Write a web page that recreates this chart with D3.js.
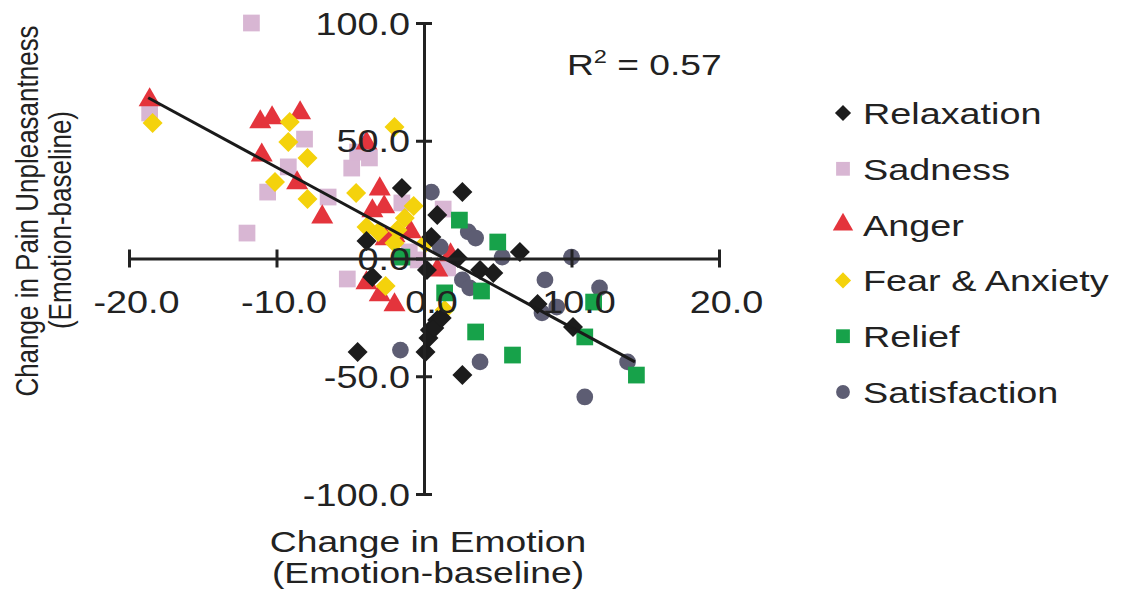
<!DOCTYPE html>
<html>
<head>
<meta charset="utf-8">
<script src="https://cdn.jsdelivr.net/npm/d3@7"></script>
<style>
body { margin: 0; background: #fff; }
text { font-family: "Liberation Sans", Arial, sans-serif; fill: #222; }
</style>
</head>
<body>
<div id="chart"></div>
<script>
// values: [change in emotion, change in pain unpleasantness]
const relaxation = [[-1.5, 29.9], [2.6, 28.2], [0.9, 18.5], [-3.9, 7.4], [0.5, 9.1], [-3.5, -7.9],
  [0.2, -4.9], [2.3, 0.2], [6.5, 2.8], [3.8, -4.9], [4.7, -6.2], [7.7, -19.3], [10.1, -29.1],
  [-4.5, -39.7], [0.1, -39.7], [2.6, -49.5], [0.4, -30.4], [0.9, -26.1], [0.3, -33.8], [0.7, -29.5], [1.2, -25.3]];
const sadness = [[-11.7, 100.0], [-18.6, 61.8], [-8.1, 50.7], [-9.2, 38.9], [-10.6, 28.2], [-6.5, 26.1],
  [-12.0, 10.8], [-4.9, 38.4], [-3.7, 42.7], [-4.5, 45.2], [-1.5, 23.6], [1.3, 21.0], [-5.2, -8.7],
  [-0.4, -0.6], [1.6, -4.0], [-1.0, 2.8]];
const anger = [[-18.6, 67.3], [-11.1, 58.0], [-10.3, 59.7], [-8.4, 61.8], [-11.0, 43.9], [-8.6, 32.1],
  [-6.9, 17.6], [-3.9, 49.0], [-3.0, 29.5], [-3.5, 20.2], [-2.7, 21.9], [-2.6, 8.3], [-2.0, 9.6],
  [-0.9, 11.3], [-3.9, -10.4], [-3.0, -15.5], [-2.0, -19.7], [1.8, 1.5], [0.9, -4.9]];
const fear = [[-18.4, 57.5], [-9.1, 58.0], [-9.2, 49.5], [-7.9, 42.7], [-10.1, 32.5], [-7.9, 25.3],
  [-4.6, 27.8], [-2.0, 55.8], [-3.9, 13.4], [-3.1, 11.3], [-0.7, 22.3], [-1.3, 17.2], [-1.8, 12.1],
  [-2.0, 6.6], [0.1, 6.6], [-2.6, -11.7], [1.4, -21.9]];
const relief = [[-1.5, 0.6], [2.4, 16.3], [5.0, 7.0], [3.9, -13.8], [1.4, -14.6], [11.5, -18.5],
  [3.5, -31.2], [6.0, -41.0], [10.9, -33.3], [14.4, -49.5]];
const satisfaction = [[0.5, 28.2], [3.0, 11.3], [3.5, 8.7], [5.3, 0.6], [10.0, 0.6], [8.2, -9.1],
  [11.9, -12.5], [1.1, 4.9], [2.6, -9.1], [3.1, -12.5], [-1.6, -38.9], [3.8, -43.9], [8.0, -23.1],
  [9.0, -20.6], [13.8, -43.9], [10.9, -58.8]];

const seriesNames = ["Relaxation", "Sadness", "Anger", "Fear & Anxiety", "Relief", "Satisfaction"];
const xTicks = [-20, -10, 0, 10, 20];
const yTicks = [-100, -50, 0, 50, 100];
const fitSlope = -3.4;
const fitIntercept = 4.7;
const fitRange = [-18.7, 14.3];
const rSquared = "0.57";

let width = 1123, height = 596;
let stretch = 1.24; // the picture is wider than it is tall, text included
let palette = ["#1c1c1c", "#d8b6d3", "#e4343c", "#f4d20c", "#17a24a", "#5d5d73"];
let shapes = ["diamond", "square", "triangle", "diamond", "square", "circle"];
let allSeries = [relaxation, sadness, anger, fear, relief, satisfaction];
let drawOrder = [1, 2, 3, 5, 4, 0];

let svg = d3.select("#chart").append("svg")
  .attr("width", width).attr("height", height);

let x = d3.scaleLinear().domain([-20, 20]).range([129, 719]);
let y = d3.scaleLinear().domain([-100, 100]).range([494, 23]);

function symbolPath(shape, big) {
  if (shape == "diamond") return d3.symbol().type(d3.symbolSquare).size(big ? 200 : 130)();
  if (shape == "square") return d3.symbol().type(d3.symbolSquare).size(big ? 280 : 190)();
  if (shape == "triangle") return d3.symbol().type(d3.symbolTriangle).size(big ? 210 : 180)();
  return d3.symbol().type(d3.symbolCircle).size(big ? 220 : 150)();
}
function symbolTransform(shape, px, py) {
  return "translate(" + px + "," + py + ")" + (shape == "diamond" ? " rotate(45)" : "");
}

// points
let pointGroup = svg.append("g");
drawOrder.forEach(function(s) {
  pointGroup.append("g").selectAll("path")
    .data(allSeries[s]).enter()
    .append("path")
      .attr("d", symbolPath(shapes[s], true))
      .attr("transform", function(d) { return symbolTransform(shapes[s], x(d[0]), y(d[1])); })
      .attr("fill", palette[s]);
});

// regression line
svg.append("line")
  .attr("x1", x(fitRange[0])).attr("y1", y(fitIntercept + fitSlope * fitRange[0]))
  .attr("x2", x(fitRange[1])).attr("y2", y(fitIntercept + fitSlope * fitRange[1]))
  .attr("stroke", "#1a1a1a").attr("stroke-width", 3);

// axes crossing at the origin
let xAxis = svg.append("g").attr("class", "axis axis--x")
  .attr("transform", "translate(0," + y(0) + ")")
  .attr("color", "#222")
  .call(d3.axisBottom(x).tickValues(xTicks).tickFormat(function(d) { return d.toFixed(1); }).tickSizeOuter(0));
xAxis.select(".domain").attr("stroke-width", 3);
xAxis.selectAll(".tick line").attr("y1", -9).attr("y2", 9).attr("stroke-width", 3);
xAxis.selectAll(".tick text")
  .attr("x", null).attr("y", null).attr("dy", null)
  .attr("transform", "translate(7,54) scale(" + stretch + ",1)")
  .attr("font-size", 30.5).attr("text-anchor", "middle");

let yAxis = svg.append("g").attr("class", "axis axis--y")
  .attr("transform", "translate(" + x(0) + ",0)")
  .attr("color", "#222")
  .call(d3.axisLeft(y).tickValues(yTicks).tickFormat(function(d) { return d.toFixed(1); }).tickSizeOuter(0));
yAxis.select(".domain").attr("stroke-width", 3);
yAxis.selectAll(".tick line").attr("x1", -8).attr("x2", 8).attr("stroke-width", 3);
yAxis.selectAll(".tick text")
  .attr("x", null).attr("y", null).attr("dy", null)
  .attr("transform", "translate(-14,11) scale(" + stretch + ",1)")
  .attr("font-size", 30.5).attr("text-anchor", "end");

svg.selectAll(".axis text").attr("fill", "#222");

// R squared
let r2 = svg.append("text")
  .attr("transform", "translate(567,75) scale(" + stretch + ",1)")
  .attr("font-size", 30);
r2.append("tspan").text("R");
r2.append("tspan").attr("dy", -12).attr("font-size", 19).text("2");
r2.append("tspan").attr("dy", 12).text(" = " + rSquared);

// axis titles
svg.append("text")
  .attr("transform", "translate(428,552) scale(" + stretch + ",1)")
  .attr("font-size", 30).attr("text-anchor", "middle")
  .text("Change in Emotion");
svg.append("text")
  .attr("transform", "translate(428,583) scale(" + stretch + ",1)")
  .attr("font-size", 30).attr("text-anchor", "middle")
  .text("(Emotion-baseline)");
svg.append("text")
  .attr("transform", "translate(38,211) scale(" + stretch + ",1) rotate(-90)")
  .attr("font-size", 26).attr("text-anchor", "middle")
  .text("Change in Pain Unpleasantness");
svg.append("text")
  .attr("transform", "translate(71,220) scale(" + stretch + ",1) rotate(-90)")
  .attr("font-size", 26).attr("text-anchor", "middle")
  .text("(Emotion-baseline)");

// legend
let legendTop = 113, legendStep = 55.8;
seriesNames.forEach(function(name, i) {
  let row = svg.append("g")
    .attr("transform", "translate(843," + (legendTop + i * legendStep) + ")");
  row.append("path")
    .attr("d", symbolPath(shapes[i], false))
    .attr("transform", symbolTransform(shapes[i], 0, 0))
    .attr("fill", palette[i]);
  row.append("text")
    .attr("transform", "translate(20,11) scale(1.26,1)")
    .attr("font-size", 30)
    .text(name);
});
</script>
</body>
</html>
